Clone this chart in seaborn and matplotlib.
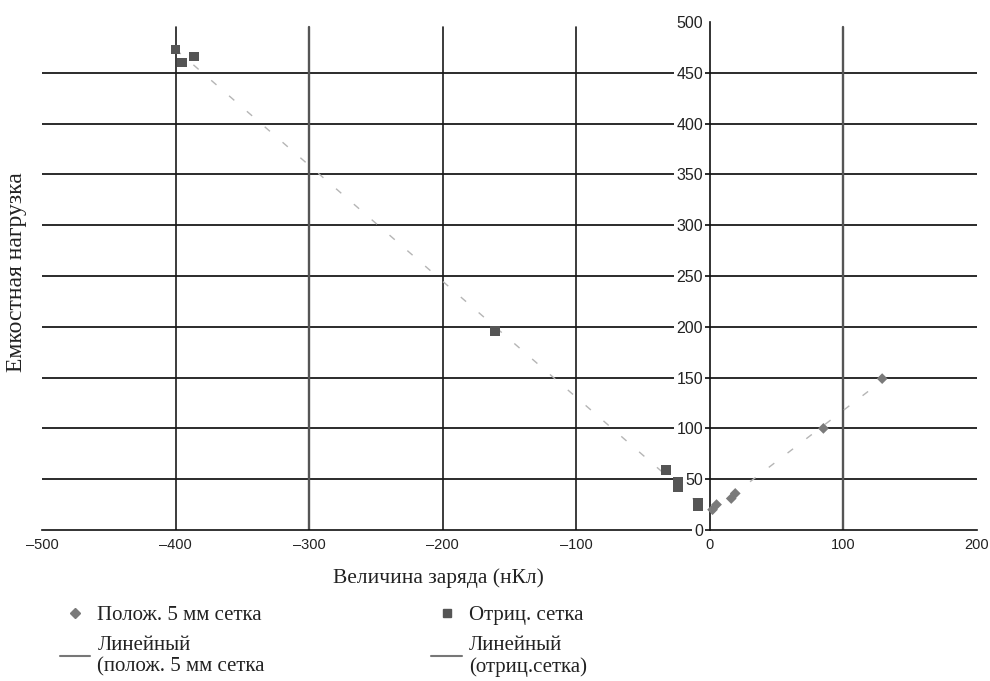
import numpy as np
import pandas as pd
import matplotlib
matplotlib.use("Agg")
import matplotlib.pyplot as plt
from matplotlib.lines import Line2D
import seaborn as sns

# values
neg_charge = [-400, -395, -386, -161, -33, -24, -24, -9, -9]
neg_load = [473, 460, 466, 196, 59, 47, 42, 27, 23]
pos_charge = [2, 5, 16, 19, 85, 129]
pos_load = [20, 25, 31, 36, 100, 149]

x_ticks = [-500, -400, -300, -200, -100, 0, 100, 200]
y_ticks = [0, 50, 100, 150, 200, 250, 300, 350, 400, 450, 500]

lbl_pos = "Полож. 5 мм сетка"
lbl_neg = "Отриц. сетка"
lbl_fit_pos = "Линейный\n(полож. 5 мм сетка"
lbl_fit_neg = "Линейный\n(отриц.сетка)"

sns.set_style("white")
plt.rcParams["font.family"] = ["Liberation Serif", "DejaVu Serif"]

fig = plt.figure(figsize=(9.9, 6.81), dpi=100)
ax = fig.add_axes([42 / 990, 151 / 681, 935 / 990, 508 / 681])
ax.set_axisbelow(False)

df_neg = pd.DataFrame({"q": neg_charge, "c": neg_load})
df_pos = pd.DataFrame({"q": pos_charge, "c": pos_load})

# y axis sits at x = 0
ax.spines["left"].set_position(("data", 0))
ax.spines["right"].set_visible(False)
ax.spines["top"].set_visible(False)

# gridlines (no line at the top value)
for yv in y_ticks[1:-1]:
    ax.axhline(yv, color="#2b2b2b", lw=1.4, zorder=1)
for xv in x_ticks[1:]:
    if xv in (0, 200):
        continue
    grey = xv in (-300, 100)
    ax.axvline(xv, ymax=0.99, color="#555555" if grey else "#1a1a1a",
               lw=1.7 if grey else 1.2, zorder=1)

# linear trend lines, faint and broken as in the scan
line_kws = dict(color="#b5b5b5", lw=1.0, linestyle=(0, (5, 12)), zorder=2)
sns.regplot(data=df_neg, x="q", y="c", scatter=False, ci=None, truncate=True,
            line_kws=line_kws, ax=ax)
sns.regplot(data=df_pos, x="q", y="c", scatter=False, ci=None, truncate=True,
            line_kws=line_kws, ax=ax)

sns.scatterplot(data=df_pos, x="q", y="c", marker="D", s=30, color="#7a7a7a",
                edgecolor="none", ax=ax, zorder=3)
sns.scatterplot(data=df_neg, x="q", y="c", marker="s", s=48, color="#555555",
                edgecolor="none", ax=ax, zorder=3)

ax.set_xlim(-500, 200)
ax.set_ylim(0, 500)
ax.set_xticks(x_ticks)
ax.set_yticks(y_ticks)
ax.set_xticklabels([str(v).replace("-", "\u2013") for v in x_ticks],
                   family="Liberation Sans", fontsize=10.5)
ax.set_yticklabels([str(v) for v in y_ticks], family="Liberation Sans", fontsize=11.5)
for t in ax.get_yticklabels():
    t.set_bbox(dict(facecolor="white", edgecolor="none", pad=1.5))

for s in ("left", "bottom"):
    ax.spines[s].set_color("#111111")
    ax.spines[s].set_linewidth(1.2)
ax.tick_params(axis="x", direction="in", length=4, width=1, color="#111111",
               labelcolor="#222222", pad=6)
ax.tick_params(axis="y", direction="inout", length=4, width=1, color="#111111",
               labelcolor="#222222", pad=3)

ax.set_xlabel("Величина заряда (нКл)", fontsize=15.5, color="#222222")
ax.xaxis.set_label_coords(0.424, -0.075)
ax.set_ylabel("Емкостная нагрузка", fontsize=17, color="#222222")
ax.yaxis.set_label_coords(-0.016, 0.508)

handles = [
    Line2D([], [], marker="D", color="#7a7a7a", linestyle="none", markersize=5),
    Line2D([], [], color="#777777", lw=1.5),
    Line2D([], [], marker="s", color="#555555", linestyle="none", markersize=6),
    Line2D([], [], color="#777777", lw=1.5),
]
labels = [lbl_pos, lbl_fit_pos, lbl_neg, lbl_fit_neg]
leg = fig.legend(handles, labels, loc="upper left", bbox_to_anchor=(41 / 990, 1 - 587 / 681),
                 ncol=2, frameon=False, fontsize=15, handlelength=1.45, handletextpad=0.35,
                 columnspacing=8.0, labelspacing=0.5, labelcolor="#222222",
                 borderpad=0.4)
for t in leg.get_texts():
    t.set_linespacing(1.15)

fig.savefig("out.png", dpi=100)
